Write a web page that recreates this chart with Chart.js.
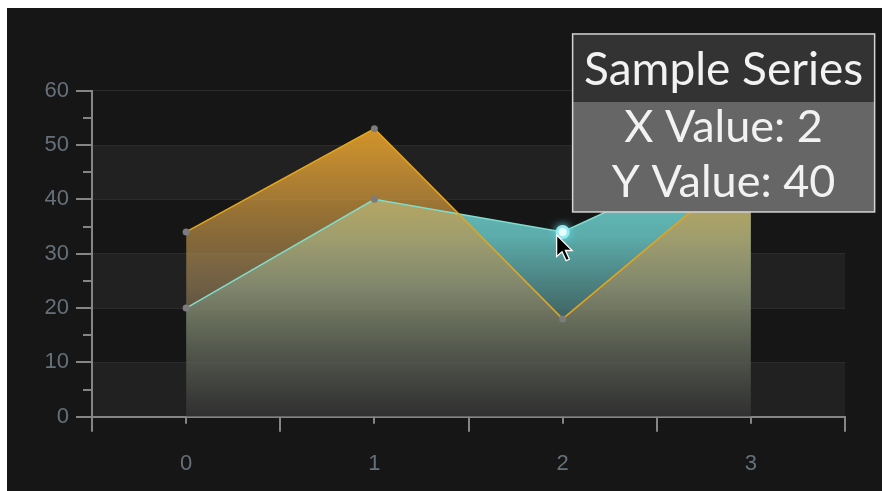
<!DOCTYPE html>
<html>
<head>
<meta charset="utf-8">
<script src="https://cdn.jsdelivr.net/npm/chart.js@4.4.1/dist/chart.umd.min.js"></script>
<style>
html,body{margin:0;padding:0;background:#fff;}
#wrap{position:absolute;left:0;top:0;width:882px;height:491px;}
</style>
</head>
<body>
<div id="wrap"><canvas id="c" width="882" height="491"></canvas></div>
<script>
const categories = [0, 1, 2, 3];
const orangeValues = [34, 53, 18, 47];
const tealValues = [20, 40, 34, 50];
const yTicks = [0, 10, 20, 30, 40, 50, 60];
const yMinorTicks = [5, 15, 25, 35, 45, 55];
const xTickLabels = ['0', '1', '2', '3'];
const xBoundaryTicks = [-0.5, 0.5, 1.5, 2.5, 3.5];
const tooltipTitle = 'Sample Series';
const tooltipLines = ['X Value: 2', 'Y Value: 40'];
const hoverIndex = 2;

function gradientFill(stops) {
  return function (ctx) {
    const chart = ctx.chart;
    const a = chart.chartArea;
    if (!a) return 'rgba(0,0,0,0)';
    const g = chart.ctx.createLinearGradient(0, a.top, 0, a.bottom);
    stops.forEach(s => g.addColorStop(s[0], s[1]));
    return g;
  };
}

const bgPlugin = {
  id: 'bg',
  beforeDraw(chart) {
    const ctx = chart.ctx, a = chart.chartArea, ys = chart.scales.y;
    ctx.save();
    ctx.fillStyle = '#ffffff';
    ctx.fillRect(0, 0, chart.width, chart.height);
    ctx.fillStyle = '#161616';
    ctx.fillRect(7, 8, chart.width - 7, chart.height - 8);
    ctx.fillStyle = '#212121';
    for (let i = 0; i < yTicks.length - 1; i++) {
      if (i % 2 === 0) {
        const y1 = ys.getPixelForValue(yTicks[i]);
        const y2 = ys.getPixelForValue(yTicks[i + 1]);
        ctx.fillRect(a.left, y2, a.right - a.left, y1 - y2);
      }
    }
    ctx.restore();
  },
  afterDraw(chart) {
    const ctx = chart.ctx, a = chart.chartArea, xs = chart.scales.x, ys = chart.scales.y;
    ctx.save();
    ctx.strokeStyle = '#858585';
    ctx.lineWidth = 2;
    ctx.beginPath();
    xBoundaryTicks.forEach(v => { const p = Math.round(xs.getPixelForValue(v)); ctx.moveTo(p, a.bottom); ctx.lineTo(p, a.bottom + 15); });
    categories.forEach(v => { const p = Math.round(xs.getPixelForValue(v)); ctx.moveTo(p, a.bottom); ctx.lineTo(p, a.bottom + 7); });
    yTicks.forEach(v => { const p = Math.round(ys.getPixelForValue(v)); ctx.moveTo(a.left - 16, p); ctx.lineTo(a.left, p); });
    yMinorTicks.forEach(v => { const p = Math.round(ys.getPixelForValue(v)); ctx.moveTo(a.left - 9, p); ctx.lineTo(a.left, p); });
    ctx.stroke();

    // hovered point glow
    const px = xs.getPixelForValue(categories[hoverIndex]);
    const py = ys.getPixelForValue(tealValues[hoverIndex]);
    ctx.shadowColor = 'rgba(100,230,240,1)';
    ctx.shadowBlur = 8;
    ctx.fillStyle = 'rgba(150,235,240,1)';
    ctx.beginPath(); ctx.arc(px, py, 7, 0, Math.PI * 2); ctx.fill();
    ctx.shadowBlur = 0;
    ctx.fillStyle = '#e8ffff';
    ctx.beginPath(); ctx.arc(px, py, 4, 0, Math.PI * 2); ctx.fill();

    // tooltip
    const left = px + 10, top = py - 198, w = 302, hh = 68, bh = 110;
    ctx.fillStyle = '#333333';
    ctx.fillRect(left, top, w, hh);
    ctx.fillStyle = '#666666';
    ctx.fillRect(left, top + hh, w, bh);
    ctx.strokeStyle = '#d4d4d4';
    ctx.lineWidth = 1.5;
    ctx.strokeRect(left, top, w, hh + bh);
    ctx.fillStyle = '#f2f2f2';
    ctx.textAlign = 'center';
    ctx.textBaseline = 'alphabetic';
    ctx.font = '46px Lato';
    ctx.fillText(tooltipTitle, left + w / 2, top + 51);
    ctx.font = '45px Lato';
    ctx.fillText(tooltipLines[0], left + w / 2, top + 108);
    ctx.fillText(tooltipLines[1], left + w / 2, top + 163);

    // mouse cursor
    const cx = px - 6, cy = py + 3, s = 1.35;
    const pts = [[0,0],[0,16],[4,12.5],[7,19],[9.5,18],[6.5,11.5],[11.5,11.5]];
    ctx.beginPath();
    pts.forEach((p, i) => { const X = cx + p[0] * s, Y = cy + p[1] * s; i ? ctx.lineTo(X, Y) : ctx.moveTo(X, Y); });
    ctx.closePath();
    ctx.fillStyle = '#000';
    ctx.fill();
    ctx.strokeStyle = '#fff';
    ctx.lineWidth = 1.3;
    ctx.stroke();
    ctx.restore();
  }
};

new Chart(document.getElementById('c'), {
  type: 'line',
  data: {
    datasets: [
      {
        label: 'Orange',
        data: categories.map((c, i) => ({ x: c, y: orangeValues[i] })),
        borderColor: '#e4a41c',
        borderWidth: 1.5,
        fill: 'origin',
        backgroundColor: gradientFill([[0, 'rgba(242,166,35,1)'], [0.3, 'rgba(222,160,58,0.72)'], [0.6, 'rgba(168,140,95,0.58)'], [1, 'rgba(60,60,60,0.4)']]),
        pointRadius: 3.5,
        pointBackgroundColor: '#7c7c7c',
        pointBorderWidth: 0,
        tension: 0
      },
      {
        label: 'Teal',
        data: categories.map((c, i) => ({ x: c, y: tealValues[i] })),
        borderColor: '#80dccf',
        borderWidth: 1.5,
        fill: 'origin',
        backgroundColor: gradientFill([[0, 'rgba(120,225,220,1)'], [0.45, 'rgba(95,180,178,0.95)'], [1, 'rgba(45,45,45,0.6)']]),
        pointRadius: 3.5,
        pointBackgroundColor: '#7c7c7c',
        pointBorderWidth: 0,
        tension: 0
      }
    ]
  },
  options: {
    responsive: false,
    animation: false,
    events: [],
    layout: { padding: { top: 90.7, right: 37, left: 0, bottom: 0 } },
    plugins: { legend: { display: false }, tooltip: { enabled: false }, filler: { drawTime: 'beforeDatasetsDraw' } },
    scales: {
      x: {
        type: 'linear',
        min: -0.5,
        max: 3.5,
        afterFit(s) { s.height = 74.3; },
        grid: { display: false, drawTicks: false },
        border: { display: true, color: '#858585', width: 2 },
        ticks: {
          stepSize: 0.5,
          autoSkip: false,
          maxRotation: 0,
          padding: 34,
          color: '#66707a',
          font: { family: 'Liberation Sans', size: 22 },
          callback(v) { const i = categories.indexOf(v); return i >= 0 ? xTickLabels[i] : ''; }
        }
      },
      y: {
        min: 0,
        max: 60,
        afterFit(s) { s.width = 92; },
        grid: { color: '#2b2b2b', lineWidth: 1, drawTicks: false },
        border: { display: true, color: '#858585', width: 2 },
        ticks: {
          stepSize: 10,
          padding: 23,
          color: '#66707a',
          font: { family: 'Liberation Sans', size: 22 },
          callback(v) { return yTicks.includes(v) ? String(v) : ''; }
        }
      }
    }
  },
  plugins: [bgPlugin]
});
</script>
</body>
</html>
